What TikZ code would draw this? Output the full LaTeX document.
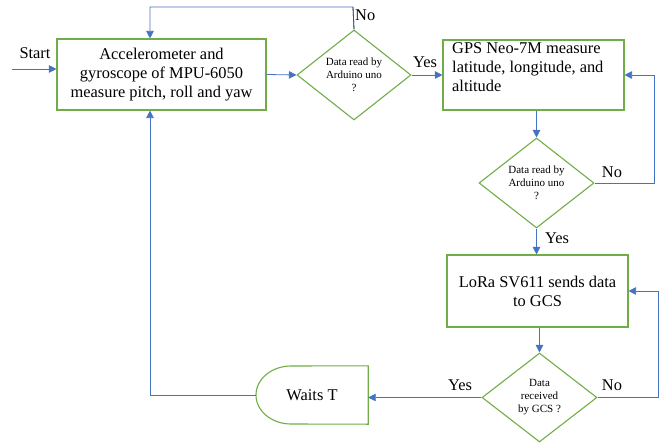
\documentclass[tikz,border=0pt]{standalone}
\usepackage{fontspec}
\setmainfont{Liberation Serif}
\usetikzlibrary{shapes.geometric,arrows.meta}
\definecolor{grn}{HTML}{70AD47}
\definecolor{blu}{HTML}{4472C4}
\begin{document}
\begin{tikzpicture}[x=1pt,y=-1pt,
  gbox/.style={draw=grn,line width=1.1pt,rectangle,inner sep=0pt},
  gdia/.style={draw=grn,line width=1.1pt,diamond,inner sep=0pt,minimum width=115pt,minimum height=90pt,align=center,font=\fontsize{11}{13}\selectfont},
  big/.style={font=\fontsize{16.4}{19}\selectfont},
  arr/.style={draw=blu,line width=0.8pt,-{Triangle[length=7.5pt,width=7.5pt]}},
  lbl/.style={font=\fontsize{16.4}{19}\selectfont,inner sep=0pt}]
\useasboundingbox (0,0) rectangle (666,444);
% boxes
\node[gbox,big,minimum width=209pt,minimum height=71pt,align=center] (b1) at (161.5,74.5)
  {Accelerometer and\\gyroscope of MPU-6050\\measure pitch, roll and yaw};
\node[gbox,minimum width=181pt,minimum height=70pt] (b2) at (533.5,75) {};
\node[big,anchor=north west,align=left,inner sep=0pt] (t2) at (452,42)
  {GPS Neo-7M measure\\latitude, longitude, and\\altitude};
\node[gbox,big,minimum width=181pt,minimum height=72pt,align=center] (b3) at (537.5,291)
  {LoRa SV611 sends data\\to GCS};
% diamonds
\node[gdia,minimum width=114pt] (d1) at (354,75) {Data read by\\Arduino uno\\?};
\node[gdia] (d2) at (536.5,183) {Data read by\\Arduino uno\\?};
\node[gdia,minimum height=89pt] (d3) at (539.5,397.5) {Data\\received\\by GCS ?};
% delay shape
\node[big,minimum width=112pt,minimum height=58pt,inner sep=0pt] (w) at (312,395) {Waits T};
\draw[draw=grn,line width=1.1pt] (w.north east) -- (291,366)
  arc[start angle=90,end angle=270,x radius=35pt,y radius=29pt] -- (w.south east) -- cycle;
% start
\coordinate (s) at (12,69);
\node[lbl] (st) at (35,53) {Start};
\draw[arr] (s) -- (s -| b1.west);
% connectors
\draw[arr] (b1.east) -- (d1.west);
\node[lbl] (y1) at (425,62) {Yes};
\draw[arr] (d1.east) -- (d1.east -| b2.west);
\coordinate (c1) at (353,7);
\coordinate (c1b) at (150,7);
\draw[arr] (d1.north) -- (c1) -- (c1b) -- (c1b |- b1.north);
\draw[draw=black!70,line width=0.8pt] (d1.north) -- (c1);
\node[lbl,anchor=west] (n1) at (355,15) {No};
\draw[arr] (d2.north |- b2.south) -- (d2.north);
\coordinate (c2) at (654,183);
\draw[arr] (d2.east) -- (c2) |- (b2.east);
\node[lbl] (n2) at (612,172) {No};
\draw[arr] (d2.south) -- (d2.south |- b3.north);
\node[lbl] (y2) at (557,238) {Yes};
\draw[arr] (d3.north |- b3.south) -- (d3.north);
\coordinate (c3) at (658,397.5);
\draw[arr] (d3.east) -- (c3) |- (b3.east);
\node[lbl] (n3) at (612,385) {No};
\draw[arr] (d3.west) -- (d3.west -| w.east);
\node[lbl] (y3) at (460,385) {Yes};
\coordinate (c4) at (150,395);
\draw[arr] (w.west) -- (c4) -- (c4 |- b1.south);
\end{tikzpicture}
\end{document}
